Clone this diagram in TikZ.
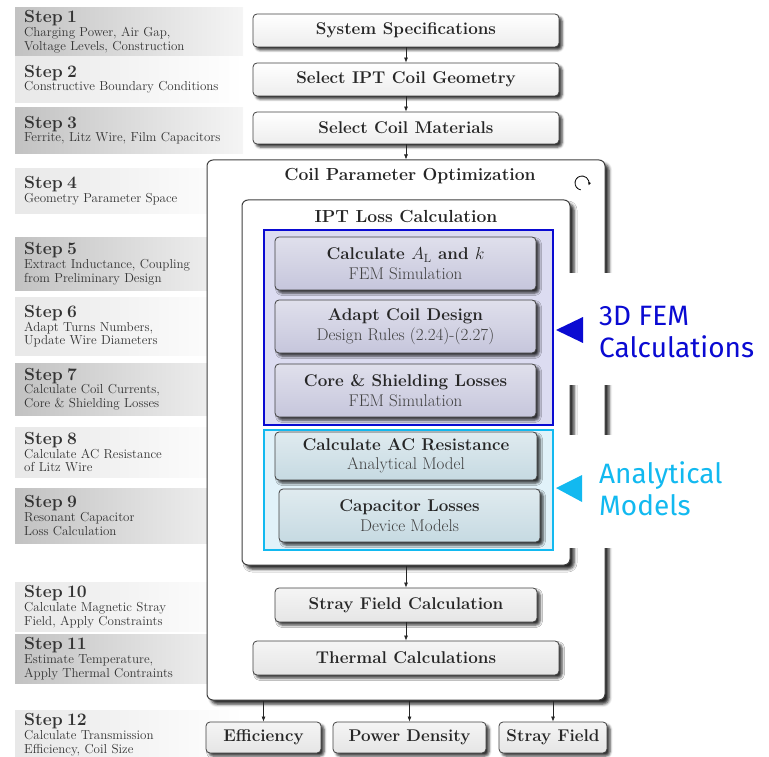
\documentclass[tikz,border=0pt]{standalone}
\usepackage{fontspec}
\newfontfamily\notefont{Fira Sans}
\usetikzlibrary{arrows.meta,shadows.blur}

\definecolor{femblue}{HTML}{0A0AD2}
\definecolor{femfill}{HTML}{DCDCF1}
\definecolor{feminner}{HTML}{C6C6DC}
\definecolor{anacyan}{HTML}{12B9F0}
\definecolor{anafill}{HTML}{E1F2F9}
\definecolor{anainner}{HTML}{C6DAE2}

\newcommand\stepname[1]{{\fontsize{17.5}{16}\selectfont\bfseries Step #1}\\}
\newcommand\twoline[2]{#1\\{\mdseries\color{black!75}#2}}

\tikzset{
	stepbox/.style={anchor=north west, minimum width=225pt, text width=210pt, inner xsep=9pt,
		align=left, font=\fontsize{13}{13.8}\selectfont, text=black!80},
	darkstep/.style={stepbox, left color=black!24, right color=black!4},
	lightstep/.style={stepbox, left color=black!9, right color=white},
	softshadow/.style={blur shadow={shadow xshift=3pt, shadow yshift=-3pt, shadow blur radius=2.5pt, shadow opacity=80}},
	flowbox/.style={draw=black!75, line width=0.8pt, rounded corners=4pt, align=center, softshadow,
		font=\fontsize{17}{19.5}\selectfont\bfseries, text=black!85, top color=white, bottom color=black!7},
	fembox/.style={flowbox, top color=feminner!55, bottom color=feminner},
	anabox/.style={flowbox, top color=anainner!55, bottom color=anainner},
	resultbox/.style={flowbox, inner xsep=2pt, top color=black!4, bottom color=black!10},
	framebox/.style={draw=black!75, line width=1pt, rounded corners=6pt, fill=white,
		blur shadow={shadow xshift=4pt, shadow yshift=-4pt, shadow blur radius=3pt, shadow opacity=85}},
	grouprect/.style={line width=2pt},
	titletext/.style={font=\fontsize{17.5}{19}\selectfont\bfseries, text=black!85},
	notetext/.style={anchor=base west, align=left, inner sep=0pt, font=\notefont\fontsize{28}{32}\selectfont},
	cover/.style={anchor=north west, fill=white, inner sep=0pt},
	flow/.style={-{Latex[length=5pt,width=4pt]}, line width=0.7pt, black!85}
}

\begin{document}
\begin{tikzpicture}[x=1pt, y=-1pt]
	\def \colx{406}
	\useasboundingbox (0,0) rectangle (769,757);

	% step column on the left
	\node (s1) [darkstep, minimum height=47pt] at (15,7) {\stepname{1}Charging Power, Air Gap,\\Voltage Levels, Construction};
	\node (s2) [lightstep, minimum height=46pt] at (15,56) {\stepname{2}Constructive Boundary Conditions};
	\node (s3) [darkstep, minimum height=46pt] at (15,107) {\stepname{3}Ferrite, Litz Wire, Film Capacitors};
	\node (s4) [lightstep, minimum height=45pt] at (15,168) {\stepname{4}Geometry Parameter Space};
	\node (s5) [darkstep, minimum height=53pt] at (15,237) {\stepname{5}Extract Inductance, Coupling\\from Preliminary Design};
	\node (s6) [lightstep, minimum height=58pt] at (15,297) {\stepname{6}Adapt Turns Numbers,\\Update Wire Diameters};
	\node (s7) [darkstep, minimum height=52pt] at (15,363) {\stepname{7}Calculate Coil Currents,\\Core \& Shielding Losses};
	\node (s8) [lightstep, minimum height=50pt] at (15,427) {\stepname{8}Calculate AC Resistance\\of Litz Wire};
	\node (s9) [darkstep, minimum height=55pt] at (15,488) {\stepname{9}Resonant Capacitor\\Loss Calculation};
	\node (s10) [lightstep, minimum height=48pt] at (15,582) {\stepname{10}Calculate Magnetic Stray\\Field, Apply Constraints};
	\node (s11) [darkstep, minimum height=47pt] at (15,634) {\stepname{11}Estimate Temperature,\\Apply Thermal Contraints};
	\node (s12) [lightstep, minimum height=42pt] at (15,710) {\stepname{12}Calculate Transmission\\Efficiency, Coil Size};

	% design flow
	\node (spec) [flowbox, minimum width=306pt, minimum height=33pt] at (\colx,30.5) {System Specifications};
	\node (geom) [flowbox, minimum width=306pt, minimum height=33pt] at (\colx,79.5) {Select IPT Coil Geometry};
	\node (mat) [flowbox, minimum width=306pt, minimum height=32pt] at (\colx,128) {Select Coil Materials};

	\node (optim) [framebox, minimum width=398pt, minimum height=540pt] at (\colx,430) {};
	\node (optimtitle) [titletext] at (410,176) {Coil Parameter Optimization};
	\draw[-{Latex[length=3pt,width=3pt]}, line width=0.8pt] (582,183) ++(100:7) arc[start angle=100, end angle=380, radius=7];

	\node (loss) [framebox, minimum width=328pt, minimum height=365pt] at (\colx,382.5) {};
	\node (losstitle) [titletext] at (\colx,216) {IPT Loss Calculation};

	\filldraw[grouprect, draw=femblue, fill=femfill] (264,230) rectangle (553,425);
	\filldraw[grouprect, draw=anacyan, fill=anafill] (264,430) rectangle (553,550);

	\node (calcal) [fembox, minimum width=261pt, minimum height=53pt] at (405.5,263.5) {\twoline{Calculate $A_\mathrm{L}$ and $k$}{FEM Simulation}};
	\node (adapt) [fembox, minimum width=261pt, minimum height=53pt] at (405.5,326.5) {\twoline{Adapt Coil Design}{Design Rules (2.24)-(2.27)}};
	\node (core) [fembox, minimum width=261pt, minimum height=53pt] at (405.5,390.5) {\twoline{Core \& Shielding Losses}{FEM Simulation}};
	\node (acres) [anabox, minimum width=262pt, minimum height=48pt] at (\colx,456) {\twoline{Calculate AC Resistance}{Analytical Model}};
	\node (caploss) [anabox, minimum width=261pt, minimum height=53pt] at (409.5,515.5) {\twoline{Capacitor Losses}{Device Models}};

	\node (stray) [flowbox, minimum width=262pt, minimum height=34pt, top color=black!4, bottom color=black!10] at (\colx,605) {Stray Field Calculation};
	\node (thermal) [flowbox, minimum width=306pt, minimum height=34pt, top color=black!4, bottom color=black!10] at (\colx,658) {Thermal Calculations};

	\node (eff) [resultbox, minimum width=115pt, minimum height=31pt] at (263.5,737.5) {Efficiency};
	\node (pden) [resultbox, minimum width=153pt, minimum height=31pt] at (409.5,737.5) {Power Density};
	\node (sfield) [resultbox, minimum width=108pt, minimum height=31pt] at (553,737.5) {Stray Field};

	\draw[flow] (spec) -- (geom);
	\draw[flow] (geom) -- (mat);
	\draw[flow] (mat) -- (optim);
	\draw[flow] (loss) -- (stray);
	\draw[flow] (stray) -- (thermal);
	\draw[flow] (optim.south -| eff) -- (eff);
	\draw[flow] (optim.south -| pden) -- (pden);
	\draw[flow] (optim.south -| sfield) -- (sfield);

	% notes on the right
	\node (femcover) [cover, minimum width=213pt, minimum height=112pt] at (556,273) {};
	\fill[femblue] (556,330) -- (583,317) -- (583,343) -- cycle;
	\node (femnote) [notetext, text=femblue] at (599,357) {3D FEM\\Calculations};
	\node (anacover) [cover, minimum width=213pt, minimum height=113pt] at (556,435) {};
	\fill[anacyan] (556,488) -- (582,475) -- (582,502) -- cycle;
	\node (ananote) [notetext, text=anacyan] at (599,515) {Analytical\\Models};
\end{tikzpicture}
\end{document}
